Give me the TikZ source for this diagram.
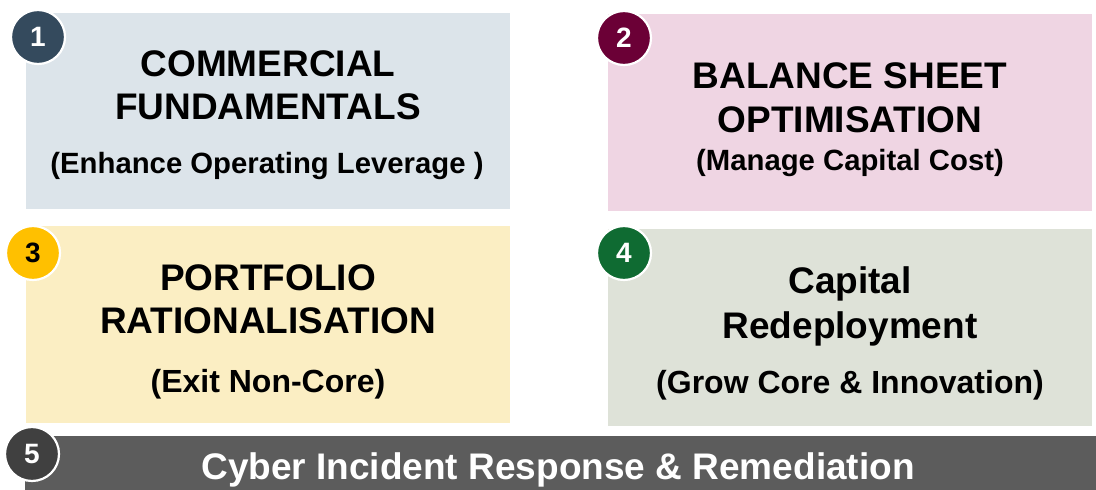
\documentclass[tikz,border=0pt]{standalone}
\usepackage{fontspec}
\setmainfont{Liberation Sans}
\definecolor{bOne}{HTML}{DCE4EA}
\definecolor{bTwo}{HTML}{EFD5E3}
\definecolor{bThree}{HTML}{FBEEC3}
\definecolor{bFour}{HTML}{DEE2D8}
\definecolor{bFive}{HTML}{5C5C5C}
\definecolor{cOne}{HTML}{344A5D}
\definecolor{cTwo}{HTML}{6B0036}
\definecolor{cThree}{HTML}{FFC000}
\definecolor{cFour}{HTML}{0F6B32}
\definecolor{cFive}{HTML}{404040}
\begin{document}
\begin{tikzpicture}[x=1pt,y=-1pt,
  badge/.style={circle,draw=white,line width=2.2pt,minimum size=54pt,inner sep=0pt,
    font=\fontsize{28}{28}\selectfont\bfseries},
  ttl/.style={anchor=base,font=\fontsize{37}{37}\selectfont\bfseries,text=black,inner sep=0pt},
  sub/.style={anchor=base,font=\fontsize{29.3}{29}\selectfont\bfseries,text=black,inner sep=0pt},
  subbig/.style={sub,font=\fontsize{32}{32}\selectfont\bfseries}]
\useasboundingbox (0,0) rectangle (1096,490);
% panels
\fill[bOne]   (26,13)   rectangle (510,209) coordinate (p1);
\fill[bTwo]   (608,14)  rectangle (1092,211) coordinate (p2);
\fill[bThree] (26,226)  rectangle (510,423) coordinate (p3);
\fill[bFour]  (608,229) rectangle (1092,426) coordinate (p4);
\fill[bFive]  (25,436)  rectangle (1096,490) coordinate (p5);
% panel 1
\node[ttl] (t1a) at (268,76) {COMMERCIAL};
\node[ttl] (t1b) at (268,119) {FUNDAMENTALS};
\node[sub] (t1c) at (267,173) {(Enhance Operating Leverage )};
% panel 2
\node[ttl] (t2a) at (850,88) {BALANCE SHEET};
\node[ttl] (t2b) at (850,132) {OPTIMISATION};
\node[sub] (t2c) at (850,170) {(Manage Capital Cost)};
% panel 3
\node[ttl] (t3a) at (268,290) {PORTFOLIO};
\node[ttl] (t3b) at (268,333) {RATIONALISATION};
\node[subbig] (t3c) at (268,392) {(Exit Non-Core)};
% panel 4
\node[ttl] (t4a) at (850,293) {Capital};
\node[ttl] (t4b) at (850,338) {Redeployment};
\node[subbig] (t4c) at (850,393) {(Grow Core \& Innovation)};
% panel 5
\node[ttl,text=white] (t5) at (558,479) {Cyber Incident Response \& Remediation};
% badges
\node[badge,fill=cOne,text=white]   (n1) at (38,37)  {1};
\node[badge,fill=cTwo,text=white]   (n2) at (624,38) {2};
\node[badge,fill=cThree,text=black] (n3) at (33,253) {3};
\node[badge,fill=cFour,text=white]  (n4) at (624,253) {4};
\node[badge,fill=cFive,text=white]  (n5) at (32,454) {5};
\end{tikzpicture}
\end{document}
